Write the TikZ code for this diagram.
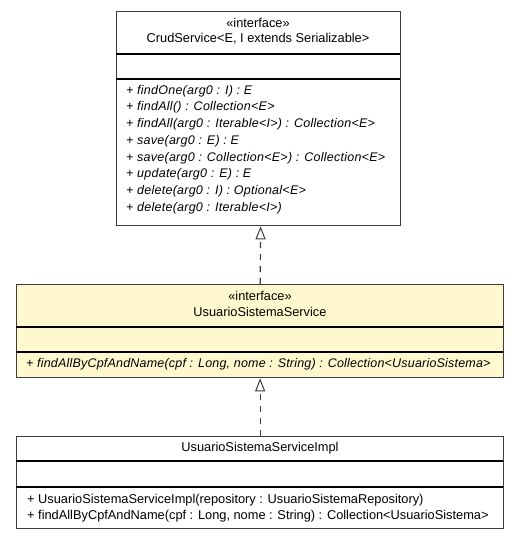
\documentclass[tikz,border=0pt]{standalone}
\usepackage{fontspec}
\setmainfont{Liberation Sans}
\newfontfamily\spacedsans[LetterSpace=2.0]{Liberation Sans}
\newfontfamily\lightspaced[LetterSpace=1.6]{Liberation Sans}
\usetikzlibrary{arrows.meta}
\definecolor{ifacefill}{RGB}{255,248,206}
\definecolor{boxline}{RGB}{60,60,60}
\tikzset{
  classbox/.style={draw=boxline, line width=1.3pt, inner sep=0pt, anchor=north west},
  sepline/.style={draw=black, line width=1.1pt},
  lbl/.style={inner sep=0pt, font=\fontsize{12.8}{12.8}\selectfont},
  member/.style={lbl, anchor=west},
  imember/.style={member, font=\lightspaced\fontsize{12.5}{12.5}\selectfont\itshape},
  wmember/.style={member, font=\spacedsans\fontsize{12.5}{12.5}\selectfont\itshape},
  realize/.style={draw=boxline, line width=1.2pt, dash pattern=on 6pt off 6pt,
    -{Triangle[open, length=13pt, width=10pt, line width=1pt, fill=white]}}
}
\begin{document}
\begin{tikzpicture}[x=1pt, y=-1pt]
  \useasboundingbox (0,0) rectangle (520,540);

  % CrudService interface
  \node[classbox, fill=white, minimum width=284pt, minimum height=214pt] (crud) at (115.5,11) {};
  \draw[sepline] (115.5,54) -- (399.5,54);
  \draw[sepline] (115.5,79) -- (399.5,79);
  \node[lbl] (crudSt) at (258,23) {«interface»};
  \node[lbl] (crudName) at (258,39) {CrudService<E, I extends Serializable>};
  \node[wmember] (c1) at (126,91.0) {+ findOne(arg0 : I) : E};
  \node[wmember] (c2) at (126,107.7) {+ findAll() : Collection<E>};
  \node[wmember] (c3) at (126,124.4) {+ findAll(arg0 : Iterable<I>) : Collection<E>};
  \node[wmember] (c4) at (126,141.1) {+ save(arg0 : E) : E};
  \node[wmember] (c5) at (126,157.8) {+ save(arg0 : Collection<E>) : Collection<E>};
  \node[wmember] (c6) at (126,174.5) {+ update(arg0 : E) : E};
  \node[wmember] (c7) at (126,191.2) {+ delete(arg0 : I) : Optional<E>};
  \node[wmember] (c8) at (126,207.9) {+ delete(arg0 : Iterable<I>)};

  % UsuarioSistemaService interface
  \node[classbox, fill=ifacefill, minimum width=487pt, minimum height=93pt] (svc) at (16,284) {};
  \draw[sepline] (16,327) -- (503,327);
  \draw[sepline] (16,352) -- (503,352);
  \node[lbl] (svcSt) at (260,296) {«interface»};
  \node[lbl] (svcName) at (260,312) {UsuarioSistemaService};
  \node[imember] (s1) at (26,364) {+ findAllByCpfAndName(cpf : Long, nome : String) : Collection<UsuarioSistema>};

  % UsuarioSistemaServiceImpl class
  \node[classbox, fill=white, minimum width=487pt, minimum height=92pt] (impl) at (16,436) {};
  \draw[sepline] (16,461) -- (503,461);
  \draw[sepline] (16,487) -- (503,487);
  \node[lbl] (implName) at (260,448) {UsuarioSistemaServiceImpl};
  \node[member] (i1) at (27,500) {+ UsuarioSistemaServiceImpl(repository : UsuarioSistemaRepository)};
  \node[member] (i2) at (27,516) {+ findAllByCpfAndName(cpf : Long, nome : String) : Collection<UsuarioSistema>};

  % realization arrows
  \draw[realize] (svc.north) -- ([xshift=2.5pt]crud.south);
  \draw[realize] (impl.north) -- (svc.south);
\end{tikzpicture}
\end{document}
